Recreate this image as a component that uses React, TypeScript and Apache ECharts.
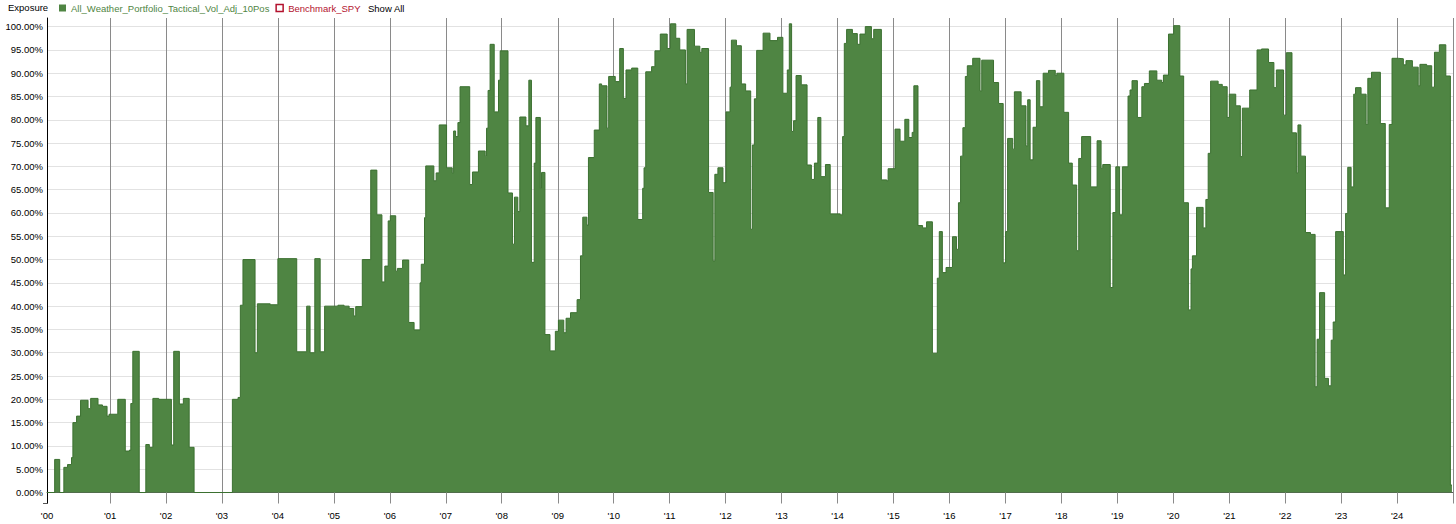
import React, { useEffect, useRef } from 'react';
import * as echarts from 'echarts';

const SERIES_NAME = 'All_Weather_Portfolio_Tactical_Vol_Adj_10Pos';
const BENCH_NAME = 'Benchmark_SPY';

// Dates on which the exposure changed (step chart: value holds until next date)
const changeDates: string[] = [
  '1999-11-16', '2000-01-05', '2000-02-07', '2000-03-05', '2000-03-29', '2000-04-24', '2000-05-03', '2000-05-27',
  '2000-06-22', '2000-08-10', '2000-08-27', '2000-10-14', '2000-11-12', '2000-12-12', '2000-12-25', '2001-02-20',
  '2001-04-10', '2001-05-07', '2001-05-16', '2001-05-29', '2001-07-10', '2001-08-22', '2001-09-14', '2001-10-07',
  '2001-11-14', '2002-02-05', '2002-02-20', '2002-03-29', '2002-04-24', '2002-06-01', '2002-07-03', '2003-03-10',
  '2003-04-16', '2003-05-01', '2003-05-18', '2003-08-05', '2003-08-20', '2003-11-12', '2004-01-01', '2004-05-03',
  '2004-07-07', '2004-07-29', '2004-08-29', '2004-10-03', '2004-11-01',
  '2005-01-27', '2005-03-08', '2005-04-10', '2005-05-10', '2005-05-23', '2005-07-05', '2005-08-29', '2005-10-08',
  '2005-11-10', '2005-11-29', '2005-12-21', '2006-01-04', '2006-02-08', '2006-02-19', '2006-03-25', '2006-05-04',
  '2006-06-08', '2006-07-17', '2006-07-25', '2006-08-15', '2006-08-23', '2006-10-15', '2006-10-30', '2006-11-19',
  '2007-01-06', '2007-02-12', '2007-02-21', '2007-03-06', '2007-03-21', '2007-04-04', '2007-06-06', '2007-06-24',
  '2007-08-02', '2007-09-15', '2007-09-24', '2007-10-04', '2007-10-17', '2007-11-13', '2007-12-11', '2007-12-22',
  '2008-02-11', '2008-03-11', '2008-03-24', '2008-04-15', '2008-04-28', '2008-06-07', '2008-06-26', '2008-07-13',
  '2008-07-31', '2008-08-11', '2008-09-09', '2008-09-17', '2008-10-09', '2008-11-11', '2008-12-16', '2009-01-05',
  '2009-02-09', '2009-02-24', '2009-03-25', '2009-05-07', '2009-05-29', '2009-06-13', '2009-07-10', '2009-07-20',
  '2009-08-27', '2009-09-29', '2009-10-14', '2009-11-18', '2009-11-29',
  '2010-01-11', '2010-02-09', '2010-03-05', '2010-03-22', '2010-04-28', '2010-06-07', '2010-07-09', '2010-07-18',
  '2010-07-29', '2010-09-05', '2010-09-27', '2010-11-01', '2010-12-16', '2011-01-06', '2011-02-10', '2011-03-08',
  '2011-04-14', '2011-04-25', '2011-06-12', '2011-07-17', '2011-07-30', '2011-09-12', '2011-10-12', '2011-10-23',
  '2011-11-12', '2011-12-15', '2012-01-04', '2012-01-30', '2012-02-08', '2012-03-12', '2012-04-13', '2012-05-11',
  '2012-06-13', '2012-06-24', '2012-07-07', '2012-07-22', '2012-09-02', '2012-10-17', '2012-12-05', '2013-01-09',
  '2013-02-07', '2013-02-20', '2013-03-07', '2013-03-20', '2013-04-05', '2013-05-09', '2013-06-16', '2013-07-14',
  '2013-08-03', '2013-08-25', '2013-09-14', '2013-10-14', '2013-11-14', '2014-01-18', '2014-02-03', '2014-02-14',
  '2014-03-01', '2014-04-08', '2014-05-10', '2014-05-27', '2014-07-01', '2014-08-10', '2014-08-25', '2014-10-14',
  '2014-11-18', '2014-11-27',
  '2015-01-11', '2015-02-13', '2015-03-16', '2015-04-11', '2015-05-03', '2015-05-14', '2015-06-10', '2015-07-10',
  '2015-08-05', '2015-09-12', '2015-10-14', '2015-10-27', '2015-11-16', '2015-12-10', '2016-01-21', '2016-02-16',
  '2016-02-29', '2016-03-14', '2016-03-29', '2016-04-14', '2016-04-27', '2016-06-01', '2016-07-19', '2016-07-30',
  '2016-10-15', '2016-11-17', '2016-12-17', '2017-01-02', '2017-01-15', '2017-02-17', '2017-02-28', '2017-04-13',
  '2017-05-15', '2017-05-26', '2017-06-11', '2017-06-30', '2017-07-22', '2017-08-13', '2017-09-04', '2017-10-09',
  '2017-11-22', '2017-12-02', '2018-01-17', '2018-02-17', '2018-03-13', '2018-04-11', '2018-04-24', '2018-05-13',
  '2018-07-11', '2018-08-22', '2018-09-17', '2018-09-28', '2018-11-16', '2018-12-03', '2018-12-22', '2019-01-16',
  '2019-02-03', '2019-03-12', '2019-03-25', '2019-04-07', '2019-05-12', '2019-06-10', '2019-06-27', '2019-07-29',
  '2019-09-16', '2019-10-18', '2019-10-29', '2019-12-01', '2020-01-04',
  '2020-02-13', '2020-03-09', '2020-04-09', '2020-04-26', '2020-05-05', '2020-06-01', '2020-07-14', '2020-08-01',
  '2020-08-16', '2020-09-01', '2020-10-20', '2020-11-16', '2020-12-18', '2021-01-01', '2021-02-12', '2021-03-14',
  '2021-03-27', '2021-05-14', '2021-07-01', '2021-07-30', '2021-09-14', '2021-10-19', '2021-11-04', '2021-12-21',
  '2022-01-08', '2022-02-14', '2022-03-15', '2022-03-25', '2022-04-13', '2022-05-13', '2022-06-15', '2022-07-15',
  '2022-07-28', '2022-08-13', '2022-09-15', '2022-10-10', '2022-10-28', '2022-11-10', '2022-11-26', '2023-01-15',
  '2023-01-30', '2023-02-13', '2023-03-07', '2023-03-24', '2023-04-05', '2023-05-11', '2023-06-13', '2023-06-24',
  '2023-07-18', '2023-09-14', '2023-10-16', '2023-11-11', '2023-11-29', '2024-01-09', '2024-02-11', '2024-02-28',
  '2024-04-10', '2024-05-18', '2024-05-29', '2024-07-12', '2024-08-14', '2024-09-01', '2024-10-03', '2024-11-14',
  '2024-12-14', '2024-12-24',
];

// Exposure (%) from each change date
const exposurePct: number[] = [
  0, 7.1, 0, 5.4, 6.0, 7.5, 15.0, 16.4,
  19.8, 18.0, 20.2, 18.8, 18.5, 16.4, 16.8, 20.0,
  8.9, 9.1, 19.1, 30.3, 0, 10.3, 9.7, 20.2,
  20.0, 10.2, 30.3, 19.0, 20.2, 9.7, 0, 20.0,
  20.4, 40.2, 50.0, 30.0, 40.5, 40.3, 50.2, 30.2,
  40.0, 30.0, 50.2, 30.2, 40.0,
  40.2, 40.0, 39.5, 37.9, 39.9, 50.0, 69.2, 59.6,
  45.2, 48.6, 58.3, 59.4, 47.5, 48.1, 49.9, 36.5,
  34.9, 45.0, 49.0, 59.0, 70.1, 66.9, 68.6, 78.9,
  69.7, 68.6, 77.6, 76.4, 79.4, 87.1, 66.1, 68.8,
  73.3, 72.2, 78.2, 86.3, 96.2, 81.7, 88.5, 94.8,
  64.3, 53.3, 63.4, 60.3, 80.6, 78.7, 88.5, 49.4,
  70.7, 80.5, 65.3, 68.7, 33.9, 30.4, 34.6, 37.0,
  34.3, 37.4, 38.6, 41.4, 50.8, 59.1, 57.4, 71.9,
  77.8, 87.7, 87.3, 78.2, 89.3,
  88.2, 95.3, 84.6, 90.7, 91.1, 58.6, 65.3, 69.7,
  90.3, 91.4, 94.8, 98.4, 95.3, 100.6, 97.5, 95.0,
  87.7, 99.4, 95.8, 94.5, 95.3, 64.4, 49.7, 68.3,
  69.7, 66.5, 81.7, 87.0, 97.1, 95.9, 87.7, 86.2,
  56.5, 74.6, 84.5, 94.9, 98.6, 97.0, 97.7, 85.7,
  90.7, 100.6, 77.5, 79.8, 89.5, 87.5, 70.3, 67.2,
  70.7, 80.5, 67.8, 70.4, 59.8, 59.6, 76.4, 96.4,
  99.4, 98.5, 96.2, 98.4, 100.0, 97.4, 99.4, 67.1,
  66.9, 69.5,
  78.0, 75.4, 80.1, 76.2, 77.3, 87.3, 57.3, 56.8,
  58.1, 29.9, 46.0, 56.0, 47.2, 48.3, 54.9, 52.2,
  62.2, 72.2, 78.3, 89.3, 91.6, 93.2, 86.2, 92.8,
  88.0, 83.5, 49.3, 56.0, 76.0, 73.7, 86.0, 83.0,
  74.4, 84.3, 71.4, 78.4, 88.4, 82.8, 90.0, 90.6,
  89.5, 90.0, 81.6, 70.7, 66.0, 51.9, 71.7, 76.4,
  65.6, 75.5, 69.6, 70.4, 44.0, 60.1, 69.9, 59.6,
  69.9, 85.1, 86.4, 88.4, 80.5, 87.1, 87.8, 90.5,
  88.5, 88.0, 89.6, 98.4, 100.2,
  89.4, 62.2, 39.2, 48.0, 50.8, 61.2, 56.8, 62.9,
  72.8, 88.3, 87.6, 87.1, 80.5, 85.5, 83.0, 72.1,
  82.5, 86.4, 95.0, 95.2, 92.3, 86.9, 90.7, 81.0,
  94.4, 77.2, 68.6, 78.9, 72.2, 55.8, 55.4, 22.7,
  32.9, 42.9, 24.5, 22.9, 32.7, 36.6, 56.0, 46.7,
  59.9, 69.8, 65.6, 85.5, 86.9, 85.5, 79.0, 88.9,
  90.2, 79.2, 61.1, 79.0, 93.2, 93.1, 91.8, 92.7,
  91.3, 87.3, 91.9, 91.6, 87.0, 94.5, 96.1, 89.4,
  1.6, 1.6,
];

const AXIS_START = '1999-11-16';
const AXIS_END = '2024-12-31';

// Year boundaries drawn as vertical grid lines
const yearLines: string[] = [
  '2001-01-01', '2002-01-01', '2003-01-01', '2004-01-01', '2005-01-01', '2006-01-01', '2007-01-01', '2008-01-01',
  '2009-01-01', '2010-01-01', '2011-01-01', '2012-01-01', '2013-01-01', '2014-01-01', '2015-01-01', '2016-01-01',
  '2017-01-01', '2018-01-01', '2019-01-01', '2020-01-01', '2021-01-01', '2022-01-01', '2023-01-01', '2024-01-01',
  AXIS_END,
];

const GREEN_FILL = '#4f8543';
const GREEN_LINE = '#3b7030';
const RED = '#b3122e';
const FONT = "'Liberation Sans', Arial, sans-serif";

export default function App() {
  const ref = useRef<HTMLDivElement>(null);

  useEffect(() => {
    if (!ref.current) return;
    const chart = echarts.init(ref.current, null, { renderer: 'svg' });
    const data = changeDates.map((d, i) => [d, exposurePct[i]]);
    // split line colours: [axis bottom, 0 %, 5 % ... 100 %, top]
    const ySplitColors = ['rgba(0,0,0,0)', '#444444'];
    for (let i = 0; i < 20; i++) ySplitColors.push('#e2e2e2');
    ySplitColors.push('rgba(0,0,0,0)');

    chart.setOption({
      animation: false,
      backgroundColor: '#ffffff',
      textStyle: { fontFamily: FONT, fontSize: 9.5, color: '#000' },
      title: {
        text: 'Exposure',
        left: 8,
        top: 2,
        padding: 0,
        textStyle: { fontFamily: FONT, fontSize: 9.5, fontWeight: 'normal', color: '#000' },
      },
      legend: {
        left: 59,
        top: 3,
        padding: 0,
        itemWidth: 7,
        itemHeight: 7,
        itemGap: 6,
        textStyle: { fontFamily: FONT, fontSize: 9.5 },
        data: [
          { name: SERIES_NAME, icon: 'rect', itemStyle: { color: GREEN_FILL }, textStyle: { color: GREEN_FILL } },
          {
            name: BENCH_NAME,
            icon: 'rect',
            itemStyle: { color: '#ffffff', borderColor: RED, borderWidth: 1.5 },
            textStyle: { color: RED },
          },
        ],
      },
      graphic: [
        {
          type: 'text',
          left: 368,
          top: 3,
          style: { text: 'Show All', fill: '#000', font: `9.5px ${FONT}` },
        },
        {
          type: 'line',
          shape: { x1: 43, y1: 503.5, x2: 48, y2: 503.5 },
          style: { stroke: '#555', lineWidth: 1 },
          z: 10,
        },
      ],
      grid: { left: 47, right: 3, top: 18, bottom: 20.5, containLabel: false },
      xAxis: {
        type: 'time',
        min: AXIS_START,
        max: AXIS_END,
        splitNumber: 25,
        axisLine: { show: true, lineStyle: { color: '#555', width: 1 } },
        axisTick: { show: false },
        axisLabel: {
          color: '#000',
          fontFamily: FONT,
          fontSize: 9.5,
          margin: 7,
          showMinLabel: true,
          showMaxLabel: false,
          hideOverlap: true,
          formatter: (value: number) => {
            const d = new Date(value);
            const y = d.getFullYear() + (d.getMonth() >= 6 ? 1 : 0);
            return "'" + String(y % 100).padStart(2, '0');
          },
        },
        splitLine: { show: false },
      },
      yAxis: {
        type: 'value',
        min: -2.36,
        max: 101.85,
        splitNumber: 21,
        minInterval: 5,
        maxInterval: 5,
        axisLine: { show: true, lineStyle: { color: '#000', width: 1 } },
        axisTick: { show: false },
        axisLabel: {
          color: '#000',
          fontFamily: FONT,
          fontSize: 9.5,
          margin: 4,
          showMinLabel: false,
          showMaxLabel: false,
          formatter: (v: number) => v.toFixed(2) + '%',
        },
        splitLine: { show: true, lineStyle: { color: ySplitColors, width: 1 } },
      },
      series: [
        {
          name: SERIES_NAME,
          type: 'line',
          step: 'end',
          data,
          symbol: 'none',
          lineStyle: { color: GREEN_LINE, width: 1 },
          itemStyle: { color: GREEN_FILL },
          areaStyle: { color: GREEN_FILL, opacity: 1, origin: 0 },
          z: 3,
          markLine: {
            silent: true,
            z: 1,
            symbol: ['none', 'none'],
            label: { show: false },
            lineStyle: { color: '#8a8a8a', width: 1, type: 'solid' },
            emphasis: { disabled: true },
            data: yearLines.map((d) => ({ xAxis: d })),
          },
        },
        {
          name: BENCH_NAME,
          type: 'line',
          data: [],
          symbol: 'none',
          itemStyle: { color: RED },
          lineStyle: { color: RED },
        },
      ],
    });

    return () => chart.dispose();
  }, []);

  return (
    <div
      ref={ref}
      style={{ position: 'fixed', left: 0, top: 0, width: 1456, height: 524, background: '#fff' }}
    />
  );
}
